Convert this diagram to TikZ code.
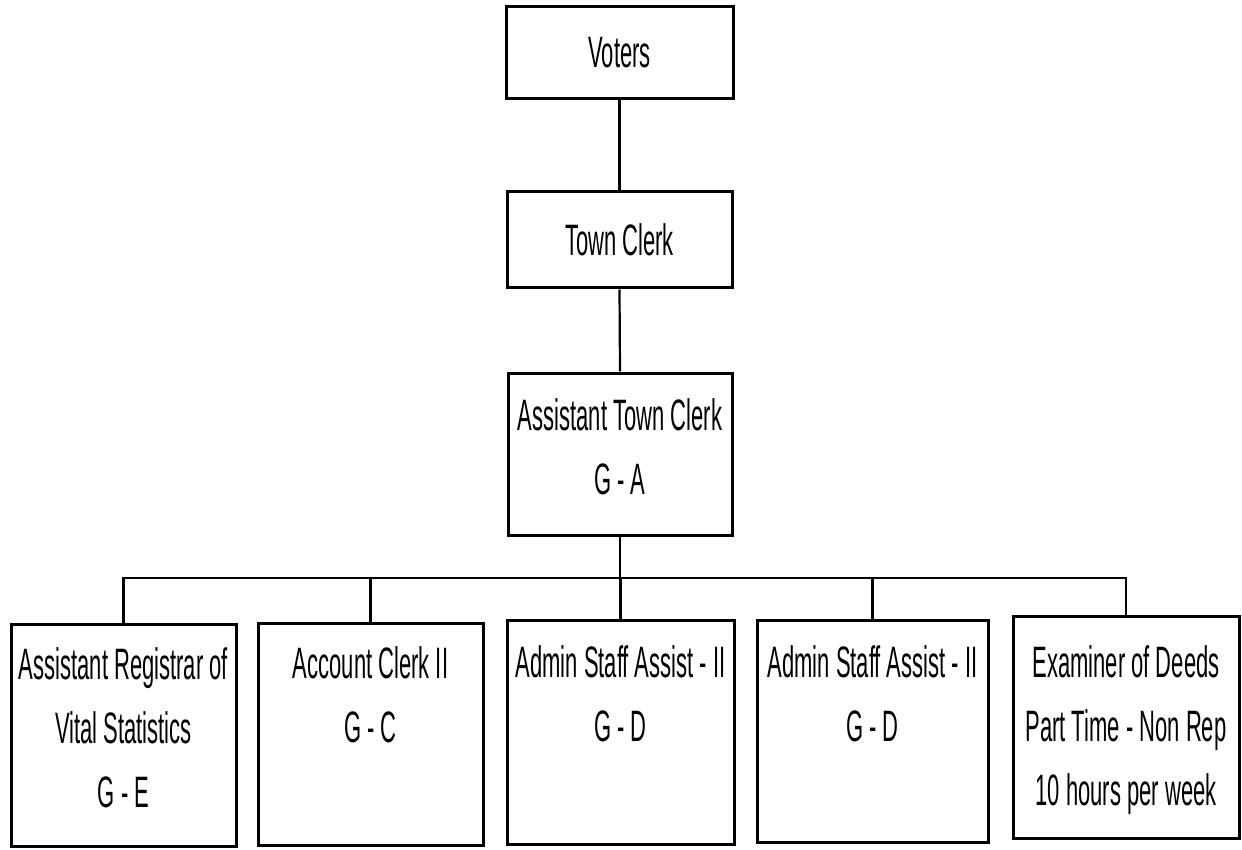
\documentclass[tikz,border=0pt]{standalone}
\usepackage{fontspec}
\setmainfont{Liberation Sans}[FakeStretch=0.5]
\begin{document}
\begin{tikzpicture}[x=1pt,y=-1pt,
  box/.style={draw=black,line width=3pt,rectangle,inner sep=0pt},
  lbl/.style={inner sep=0pt,align=center,font=\fontsize{44}{64}\selectfont},
  conn/.style={draw=black,line width=2.2pt}]
\useasboundingbox (0,0) rectangle (1242,850);
% top level
\node[box,minimum width=227pt,minimum height=92pt] (voters) at (619.5,53) {};
\node[lbl] (tvoters) at (voters.center) {Voters};
\node[box,minimum width=225pt,minimum height=96pt] (tc) at (619.5,240) {};
\node[lbl] (ttc) at (tc.center) {Town Clerk};
\node[box,minimum width=224pt,minimum height=162pt] (atc) at (620,454) {};
\node[lbl,anchor=north] (tatc) at ([yshift=-27pt]atc.north) {Assistant Town Clerk\\G - A};
% bottom level
\node[box,minimum width=225pt,minimum height=222pt] (b1) at (123.5,735) {};
\node[lbl,anchor=north] (t1) at ([yshift=-25pt]b1.north) {Assistant Registrar of\\Vital Statistics\\G - E};
\node[box,minimum width=225pt,minimum height=222pt] (b2) at (370.5,734) {};
\node[lbl,anchor=north] (t2) at ([yshift=-25pt]b2.north) {Account Clerk II\\G - C};
\node[box,minimum width=227pt,minimum height=224pt] (b3) at (620.5,732) {};
\node[lbl,anchor=north] (t3) at ([yshift=-27pt]b3.north) {Admin Staff Assist - II\\G - D};
\node[box,minimum width=231pt,minimum height=222pt] (b4) at (872.5,731) {};
\node[lbl,anchor=north] (t4) at ([yshift=-27pt]b4.north) {Admin Staff Assist - II\\G - D};
\node[box,minimum width=226pt,minimum height=222pt] (b5) at (1126,727) {};
\node[lbl,anchor=north] (t5) at ([yshift=-31pt]b5.north) {Examiner of Deeds\\Part Time - Non Rep\\10 hours per week};
% connectors
\coordinate (bus) at (620,578);
\draw[conn] (voters.south) -- (tc.north);
\draw[conn] (tc.south) -- (atc.north);
\draw[conn] (atc.south) -- (bus);
\draw[conn] (b1.north) |- (bus) -| (b5.north);
\draw[conn] (b2.north) -- (b2.north |- bus);
\draw[conn] (b3.north) -- (b3.north |- bus);
\draw[conn] (b4.north) -- (b4.north |- bus);
\end{tikzpicture}
\end{document}
